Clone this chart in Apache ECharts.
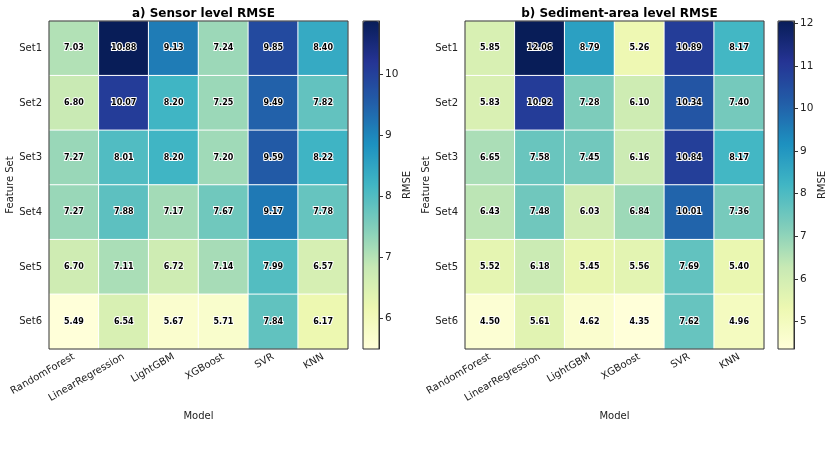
<!DOCTYPE html>
<html>
<head>
<meta charset="utf-8">
<script src="https://cdn.jsdelivr.net/npm/echarts@6/dist/echarts.min.js"></script>
<style>
  html, body { margin: 0; padding: 0; background: #fff; }
  #main { width: 832px; height: 454px; }
</style>
</head>
<body>
<div id="main"></div>
<script>
    var models = ['RandomForest', 'LinearRegression', 'LightGBM', 'XGBoost', 'SVR', 'KNN'];
    var featureSets = ['Set1', 'Set2', 'Set3', 'Set4', 'Set5', 'Set6'];

    // rows = feature sets, cols = models
    var sensorRmse = [
        [7.03, 10.88, 9.13, 7.24, 9.85, 8.40],
        [6.80, 10.07, 8.20, 7.25, 9.49, 7.82],
        [7.27, 8.01, 8.20, 7.20, 9.59, 8.22],
        [7.27, 7.88, 7.17, 7.67, 9.17, 7.78],
        [6.70, 7.11, 6.72, 7.14, 7.99, 6.57],
        [5.49, 6.54, 5.67, 5.71, 7.84, 6.17]
    ];
    var sedimentRmse = [
        [5.85, 12.06, 8.79, 5.26, 10.89, 8.17],
        [5.83, 10.92, 7.28, 6.10, 10.34, 7.40],
        [6.65, 7.58, 7.45, 6.16, 10.84, 8.17],
        [6.43, 7.48, 6.03, 6.84, 10.01, 7.36],
        [5.52, 6.18, 5.45, 5.56, 7.69, 5.40],
        [4.50, 5.61, 4.62, 4.35, 7.62, 4.96]
    ];
    var sensorTicks = [6, 7, 8, 9, 10];
    var sedimentTicks = [5, 6, 7, 8, 9, 10, 11, 12];

    var YlGnBu = ['#ffffd9', '#edf8b1', '#c7e9b4', '#7fcdbb', '#41b6c4',
                  '#1d91c0', '#225ea8', '#253494', '#081d58'];
    var FONT = 'DejaVu Sans';

    function toCells(rows) {
        var out = [];
        rows.forEach(function (row, y) {
            row.forEach(function (v, x) { out.push([x, y, v]); });
        });
        return out;
    }
    function flat(rows) { return [].concat.apply([], rows); }

    var panels = [
        { title: 'a) Sensor level RMSE', data: sensorRmse, ticks: sensorTicks, left: 49, cbLeft: 363 },
        { title: 'b) Sediment-area level RMSE', data: sedimentRmse, ticks: sedimentTicks, left: 465, cbLeft: 778 }
    ];
    var TOP = 21, W = 299, H = 328, CBW = 16;

    var option = {
        animation: false,
        textStyle: { fontFamily: FONT },
        title: [], grid: [], xAxis: [], yAxis: [], visualMap: [], series: []
    };

    panels.forEach(function (p, i) {
        var vals = flat(p.data);
        var vmin = Math.min.apply(null, vals), vmax = Math.max.apply(null, vals);
        var g = i * 2;

        option.title.push({
            text: p.title, left: p.left + W / 2, top: 3, textAlign: 'center',
            textStyle: { fontFamily: FONT, fontSize: 12, fontWeight: 'bold', color: '#000' }
        });

        // heatmap grid
        option.grid.push({ left: p.left, top: TOP, width: W, height: H, show: true,
            borderColor: '#333', borderWidth: 1, backgroundColor: 'transparent', z: 5 });
        // colorbar grid
        option.grid.push({ left: p.cbLeft, top: TOP, width: CBW, height: H, show: true,
            borderColor: '#333', borderWidth: 1, backgroundColor: 'transparent', z: 6 });

        option.xAxis.push({
            type: 'category', gridIndex: g, data: models,
            name: 'Model', nameLocation: 'middle', nameGap: 62,
            nameTextStyle: { fontFamily: FONT, fontSize: 10, color: '#222' },
            axisLine: { show: false },
            axisTick: { alignWithLabel: true, length: 4, lineStyle: { color: '#444' } },
            axisLabel: { interval: 0, rotate: 30, fontFamily: FONT, fontSize: 10, color: '#222', margin: 7 },
            splitLine: { show: false }
        });
        option.xAxis.push({ type: 'value', gridIndex: g + 1, show: false, min: 0, max: 1 });

        option.yAxis.push({
            type: 'category', gridIndex: g, data: featureSets, inverse: true,
            name: 'Feature Set', nameLocation: 'middle', nameGap: 33,
            nameTextStyle: { fontFamily: FONT, fontSize: 10, color: '#222' },
            axisLine: { show: false },
            axisTick: { alignWithLabel: true, length: 4, lineStyle: { color: '#444' } },
            axisLabel: { fontFamily: FONT, fontSize: 10, color: '#222', margin: 7 },
            splitLine: { show: false }
        });
        option.yAxis.push({
            type: 'value', gridIndex: g + 1, position: 'right', min: vmin, max: vmax, z: 8,
            name: 'RMSE', nameLocation: 'middle', nameGap: 23,
            nameTextStyle: { fontFamily: FONT, fontSize: 10, color: '#222' },
            axisLine: { show: true, onZero: false, lineStyle: { color: '#333', width: 1 } },
            axisTick: { show: true, length: 4, customValues: p.ticks, lineStyle: { color: '#333', width: 1 } },
            axisLabel: { customValues: p.ticks, fontFamily: FONT, fontSize: 10.5, color: '#222', margin: 6 },
            splitLine: { show: false }
        });

        option.visualMap.push({
            type: 'continuous', seriesIndex: i, min: vmin, max: vmax,
            orient: 'vertical', left: p.cbLeft, top: TOP, itemWidth: CBW, itemHeight: H,
            padding: 0, calculable: false, hoverLink: false, showLabel: false,
            inRange: { color: YlGnBu }
        });

        option.series.push({
            type: 'heatmap', xAxisIndex: g, yAxisIndex: g, data: toCells(p.data),
            itemStyle: { borderColor: '#fff', borderWidth: 1 },
            label: {
                show: true, fontFamily: FONT, fontSize: 8, fontWeight: 'bold', color: '#000',
                textBorderColor: '#fff', textBorderWidth: 2,
                formatter: function (d) { return d.value[2].toFixed(2); }
            },
            emphasis: { disabled: true }
        });
    });

    var chart = echarts.init(document.getElementById('main'));
    chart.setOption(option);
</script>
</body>
</html>
